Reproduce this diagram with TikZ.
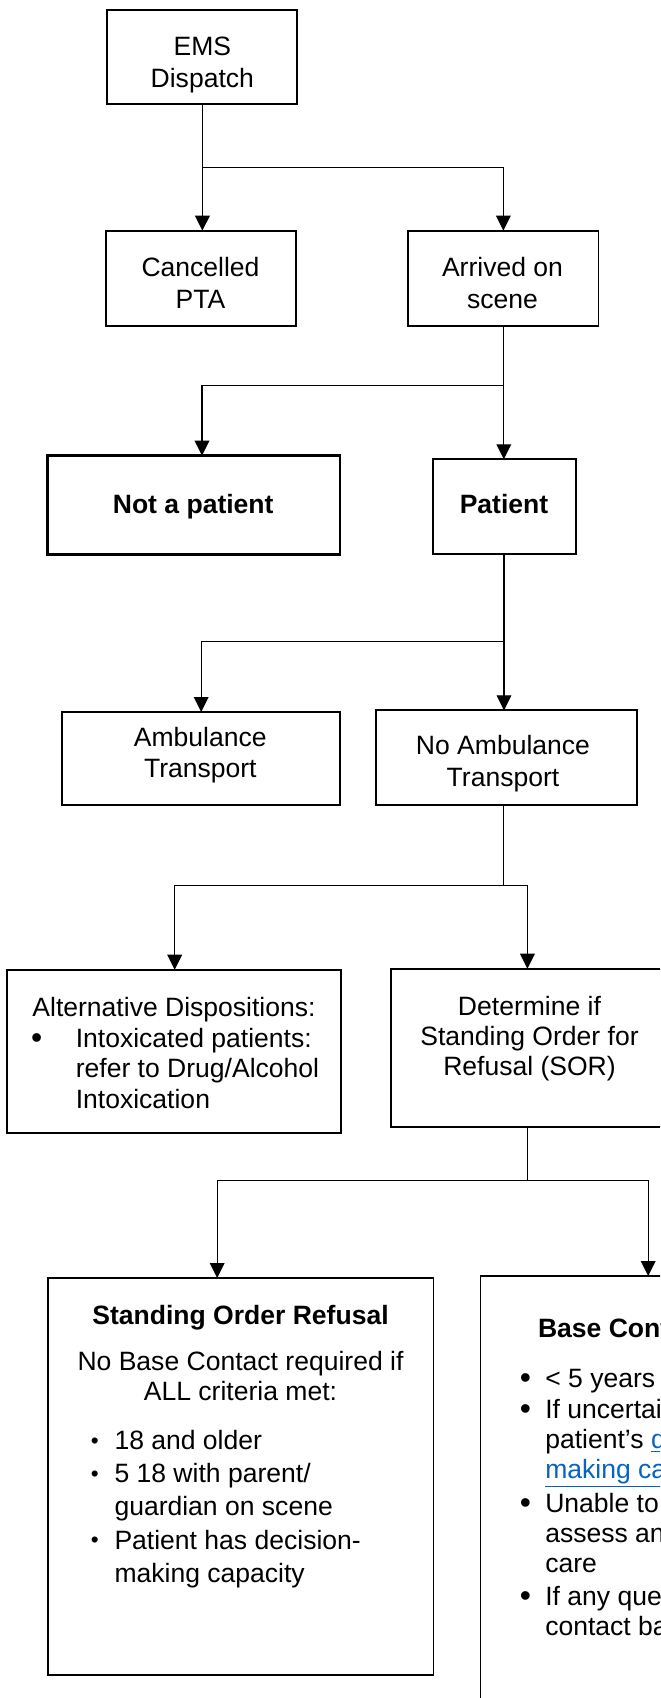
\documentclass[tikz,border=0pt]{standalone}
\usepackage{fontspec}
\setmainfont{Liberation Sans}
\usepackage{graphicx}
\usetikzlibrary{arrows.meta}

\definecolor{linkblue}{RGB}{5,99,193}
\newdimen\px \px=0.75pt
% type size used in every box, with its line spacing as argument
\newcommand\boxfont[1]{\fontsize{19.9}{#1}\selectfont}
% bullets: a fixed-width slot, bullet centred in it
\newcommand\smallbul{\makebox[39.6\px][c]{\raisebox{0.05em}{\scalebox{0.85}{•}}}}
\newcommand\bigbul[1]{\makebox[#1\px][c]{\raisebox{-0.04em}{\scalebox{1.2}{•}}}}
\newcommand\hangslot[1]{\makebox[#1\px]{}}
\newcommand\weblink[1]{\textcolor{linkblue}{\underline{#1}}}

\begin{document}
\begin{tikzpicture}[x=0.75pt,y=-0.75pt,
  box/.style={draw, rectangle, line width=1.4pt, inner sep=0pt, outer sep=0pt},
  sz/.style 2 args={minimum width=#1*0.75pt, minimum height=#2*0.75pt},
  txt/.style={inner sep=0pt, outer sep=0pt, align=center, font=\boxfont{24pt}},
  conn/.style={line width=1pt},
  arr/.style={line width=1pt, -{Triangle[length=11.25pt,width=11pt]}}]

\useasboundingbox (0,0) rectangle (660,1698);
\clip (0,0) rectangle (660,1698);

% ---- boxes ----
\node[box, sz={189.8}{94.3}] (ems) at (202.2,57.15) {};
\node[box, sz={190.3}{95.3}] (cancel) at (201.15,278.35) {};
\node[box, sz={190.3}{95.3}] (arrived) at (503.35,278.35) {};
\node[box, line width=2.2pt, sz={292.4}{98.6}] (notpat) at (193.8,505) {};
\node[box, sz={143.1}{95}] (patient) at (504.25,506.8) {};
\node[box, sz={277.7}{93}] (amb) at (200.75,758.5) {};
\node[box, sz={261.4}{95}] (noamb) at (506.5,757.8) {};
\node[box, sz={333.7}{163.6}] (alt) at (174.05,1051.5) {};
\node[box, sz={276.2}{158.6}] (sorq) at (529.5,1048) {};
\node[box, sz={385.9}{397}] (sor) at (240.55,1476.5) {};
\node[box, sz={340}{480}] (base) at (650.5,1516) {};

% ---- box texts (base anchor = baseline of the last line) ----
\node[txt, anchor=base] (ems-t) at (202.3,87.5) {EMS\\Dispatch};
\node[txt, anchor=base] (cancel-t) at (200.5,308) {Cancelled\\PTA};
\node[txt, anchor=base] (arrived-t) at (502.5,308) {Arrived on\\scene};
\node[txt, anchor=base, font=\boxfont{24pt}\bfseries] (notpat-t) at (193.2,513.3) {Not a patient};
\node[txt, anchor=base, font=\boxfont{24pt}\bfseries] (patient-t) at (504,513.3) {Patient};
\node[txt, anchor=base, font=\boxfont{22.7pt}] (amb-t) at (200.3,777) {Ambulance\\Transport};
\node[txt, anchor=base, font=\boxfont{23.5pt}] (noamb-t) at (503,786.3) {No Ambulance\\Transport};

\node[txt, anchor=base] (alt-t) at (174,1016) {Alternative Dispositions:};
\node[txt, anchor=base west, align=left, font=\boxfont{22.9pt}] (alt-l) at (-2.6,1108.1)
  {\bigbul{78.4}Intoxicated patients:\\
   \hangslot{78.4}refer to Drug/Alcohol\\
   \hangslot{78.4}Intoxication};

\node[txt, anchor=base, font=\boxfont{22.5pt}] (sorq-t) at (529.5,1075.7)
  {Determine if\\Standing Order for\\Refusal (SOR)};

\node[txt, anchor=base, font=\boxfont{24pt}\bfseries] (sor-h) at (240.5,1324) {Standing Order Refusal};
\node[txt, anchor=base, font=\boxfont{22.5pt}] (sor-t) at (240.5,1400.7)
  {No Base Contact required if\\ALL criteria met:};
\node[txt, anchor=base west, align=left, font=\boxfont{24.9pt}] (sor-l) at (74.9,1582.3)
  {\smallbul 18 and older\\
   \smallbul 5 18 with parent/\\
   \hangslot{39.6}guardian on scene\\
   \smallbul Patient has decision-\\
   \hangslot{39.6}making capacity};

\node[txt, anchor=base west, font=\boxfont{24pt}\bfseries] (base-h) at (538,1337) {Base Contact Required};
\node[txt, anchor=base west, align=left, font=\boxfont{22.5pt}] (base-l) at (505.7,1635.5)
  {\bigbul{39.6}< 5 years of age\\[1.2pt]
   \bigbul{39.6}If uncertain about\\
   \hangslot{39.6}patient’s \weblink{decision-}\\
   \hangslot{39.6}\weblink{making capacity}\\[2.5pt]
   \bigbul{39.6}Unable to adequately\\
   \hangslot{39.6}assess and provide\\
   \hangslot{39.6}care\\[2.5pt]
   \bigbul{39.6}If any questions,\\
   \hangslot{39.6}contact base};

% ---- connectors ----
\coordinate (j1) at (202.4,167.3);
\draw[conn] (ems.south -| j1) -- (j1);
\draw[arr] (j1) -- (cancel.north -| j1);
\draw[arr] (j1) -| (arrived.north);

\coordinate (j2) at (503.8,385.7);
\coordinate (j2l) at (202,385.7);
\draw[conn] (arrived.south -| j2) -- (j2);
\draw[arr] (j2) -- (j2l) -- (notpat.north -| j2l);
\draw[arr] (j2) -- (patient.north -| j2);

\coordinate (j3) at (504,641.7);
\coordinate (j3l) at (201.2,641.7);
\draw[conn] (patient.south -| j3) -- (j3);
\draw[arr] (j3) -- (j3l) -- (amb.north -| j3l);
\draw[arr] (j3) -- (noamb.north -| j3);

\coordinate (j4) at (503.8,885.7);
\coordinate (j4l) at (174.7,885.7);
\coordinate (j4r) at (527.4,885.7);
\draw[conn] (noamb.south -| j4) -- (j4);
\draw[arr] (j4) -- (j4l) -- (alt.north -| j4l);
\draw[arr] (j4) -- (j4r) -- (sorq.north -| j4r);

\coordinate (j5) at (527.4,1180.4);
\coordinate (j5l) at (217.2,1180.4);
\coordinate (j5r) at (648.2,1180.4);
\draw[conn] (sorq.south -| j5) -- (j5);
\draw[arr] (j5) -- (j5l) -- (sor.north -| j5l);
\draw[arr] (j5) -- (j5r) -- (base.north -| j5r);
\end{tikzpicture}
\end{document}
